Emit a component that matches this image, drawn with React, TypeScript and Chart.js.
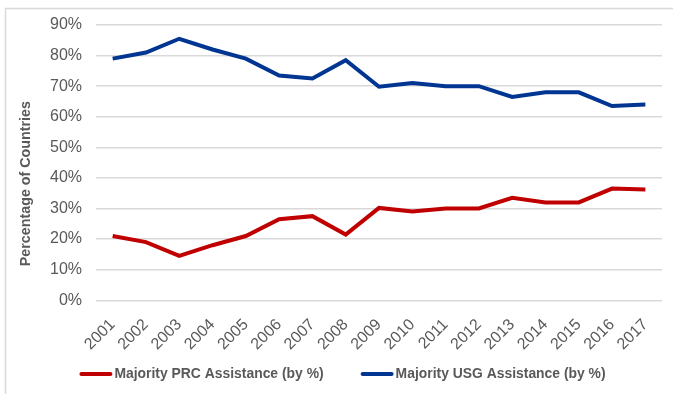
import React, { useEffect, useRef } from "react";
import { Chart, registerables } from "chart.js";

Chart.register(...registerables);

const years = ["2001","2002","2003","2004","2005","2006","2007","2008","2009","2010","2011","2012","2013","2014","2015","2016","2017"];
const prcValues = [21, 19, 14.5, 18, 21, 26.5, 27.5, 21.5, 30.2, 29, 30, 30, 33.5, 32, 32, 36.5, 36.2];
const usgValues = [79, 81, 85.5, 82, 79, 73.5, 72.5, 78.5, 69.8, 71, 70, 70, 66.5, 68, 68, 63.5, 64];
const prcLabel = "Majority PRC Assistance (by %)";
const usgLabel = "Majority USG Assistance (by %)";
const yTitle = "Percentage of Countries";

const RED = "#C00000";
const BLUE = "#003591";
const TEXT = "#595959";
const FONT = "'Liberation Sans', Arial, sans-serif";
const NARROW = "'Liberation Sans Narrow', 'Arial Narrow', sans-serif";

const framePlugin = {
  id: "frame",
  beforeDraw(chart: any) {
    const ctx = chart.ctx;
    ctx.save();
    ctx.strokeStyle = "#d9d9d9";
    ctx.lineWidth = 1.5;
    ctx.beginPath();
    ctx.moveTo(5.5, 400);
    ctx.lineTo(5.5, 8.5);
    ctx.lineTo(680, 8.5);
    ctx.stroke();
    ctx.restore();
  },
};

const titlePlugin = {
  id: "yTitle",
  afterDraw(chart: any) {
    const ctx = chart.ctx;
    const area = chart.chartArea;
    ctx.save();
    ctx.translate(26.5, (area.top + area.bottom) / 2 + 21);
    ctx.rotate(-Math.PI / 2);
    ctx.font = `bold 14.3px ${NARROW}`;
    ctx.fillStyle = TEXT;
    ctx.textAlign = "center";
    ctx.textBaseline = "middle";
    ctx.fillText(yTitle, 0, 0);
    ctx.restore();
  },
};

const legendPlugin = {
  id: "lineLegend",
  afterDraw(chart: any) {
    const ctx = chart.ctx;
    const items = chart.data.datasets.map((ds: any) => ({ label: ds.label, color: ds.borderColor }));
    ctx.save();
    ctx.font = `bold 13.9px ${NARROW}`;
    const lineW = 33;
    const gapText = 2;
    const gapItem = 37;
    const widths = items.map((it: any) => lineW + gapText + ctx.measureText(it.label).width);
    const total = widths.reduce((a: number, b: number) => a + b, 0) + gapItem * (items.length - 1);
    let x = chart.width / 2 + 6 - total / 2;
    const y = 374;
    items.forEach((it: any, i: number) => {
      ctx.strokeStyle = it.color;
      ctx.lineWidth = 4;
      ctx.lineCap = "round";
      ctx.beginPath();
      ctx.moveTo(x + 2, y);
      ctx.lineTo(x + lineW - 2, y);
      ctx.stroke();
      ctx.fillStyle = TEXT;
      ctx.textAlign = "left";
      ctx.textBaseline = "middle";
      ctx.fillText(it.label, x + lineW + gapText, y);
      x += widths[i] + gapItem;
    });
    ctx.restore();
  },
};

export default function App() {
  const ref = useRef<HTMLCanvasElement>(null);
  useEffect(() => {
    const chart = new Chart(ref.current!, {
      type: "line",
      data: {
        labels: years,
        datasets: [
          { label: prcLabel, data: prcValues, borderColor: RED, backgroundColor: RED, borderWidth: 4, pointRadius: 0, tension: 0 },
          { label: usgLabel, data: usgValues, borderColor: BLUE, backgroundColor: BLUE, borderWidth: 4, pointRadius: 0, tension: 0 },
        ],
      },
      options: {
        animation: false,
        responsive: false,
        layout: { padding: { left: 36, right: 11, top: 25, bottom: 33 } },
        plugins: {
          legend: { display: false },
          tooltip: { enabled: false },
        },
        scales: {
          x: {
            offset: true,
            grid: { display: false },
            border: { display: false },
            ticks: {
              color: TEXT,
              font: { family: FONT, size: 16 },
              minRotation: 45,
              maxRotation: 45,
              padding: 7,
            },
          },
          y: {
            min: 0,
            max: 90,
            grid: { color: "#d9d9d9", lineWidth: 1.5, drawTicks: false },
            border: { display: false },
            ticks: {
              stepSize: 10,
              color: TEXT,
              padding: 14,
              font: { family: FONT, size: 16 },
              callback: (v: any) => v + "%",
            },
          },
        },
      },
      plugins: [framePlugin, titlePlugin, legendPlugin],
    });
    return () => chart.destroy();
  }, []);
  return (
    <div style={{ position: "fixed", left: 0, top: 0, width: 673, height: 394, background: "#fff" }}>
      <canvas ref={ref} width={673} height={394} style={{ width: 673, height: 394, display: "block" }} />
    </div>
  );
}
